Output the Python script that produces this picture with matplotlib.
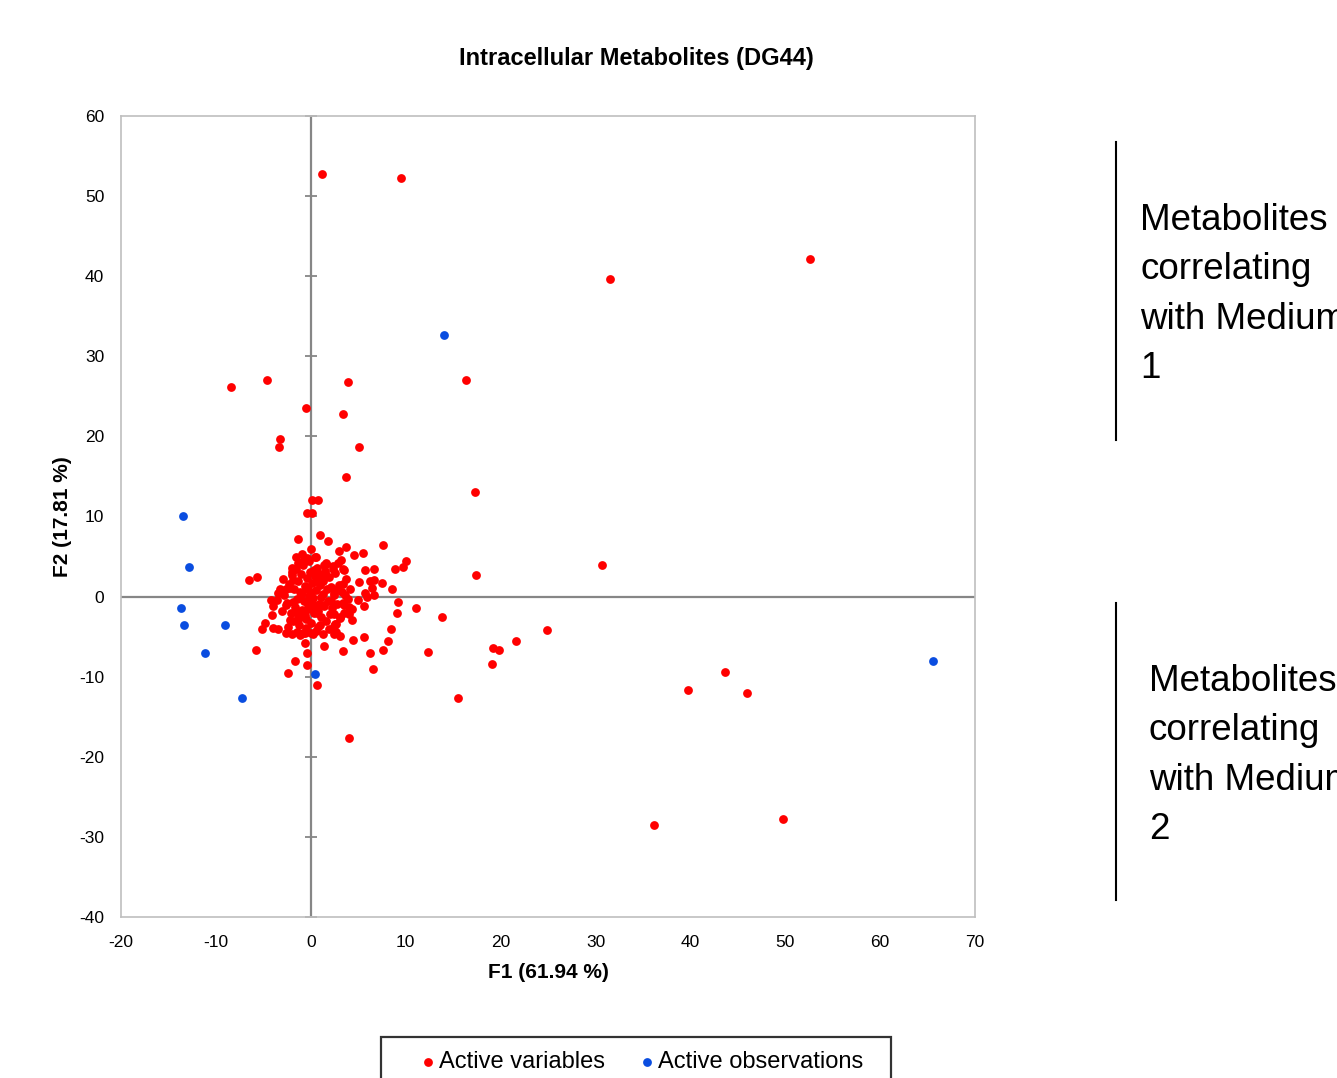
import matplotlib.pyplot as plt
from matplotlib.legend_handler import HandlerPathCollection

plt.rcParams['font.family'] = ['Liberation Sans', 'DejaVu Sans']
plt.rcParams['axes.unicode_minus'] = False

# Active variables (red)
var_x = [1.2, 9.5, 52.6, 31.5, 16.4, -8.4, -4.6, 3.9, -0.5, 3.4, -3.2, -3.3, 5.1, 3.7,
         17.3, 0.1, 0.8, -0.4, 0.1, 30.7, 17.4, 13.8, 11.1, 19.2, 19.8, 19.1, 21.6, 24.9,
         12.3, 15.5, 39.7, 43.6, 46.0, 36.2, 49.8, 4.0, 0.7, -2.4, -5.8, -6.5, -5.7,
         -1.3, 0.95, 1.8, 3.7, 2.95, 4.6, 5.5, 7.6, 0.0, 0.5, 3.2, 1.65, 2.35, 3.5, 5.7,
         6.7, 8.9, 9.7, 10.0, 5.1, 6.2, 6.7, 7.55, 6.5, 5.7, 6.7, 8.6, 5.9, 9.2, 9.1,
         5.0, 5.6, 4.3, 4.3, 3.05, 3.5, 8.4, 8.15, 7.6, 6.2, 6.6, 5.6, 4.4, 3.4, 3.05,
         2.45, 2.45, 1.4, 1.3, 0.0, -0.6, -1.1, -0.6, -0.4, -0.45, -1.7, -4.85, -5.1,
         -4.0, -3.45, -2.6, -2.0, -4.1, -4.0, -3.6, -3.45, -4.15, -2.6, -2.2, -1.9, -2.0,
         -1.3, -0.8, -0.45, 1.5, 1.3, 2.5, 3.4, 3.6, 3.4, 4.0, 2.4, 2.7, 1.3, 2.4,
         -2.8, -2.5, -2.3, -2.1, -2.0, -1.9, -1.8, -1.7, -1.6, -1.5, -1.4, -1.3, -1.2,
         -1.1, -1.0, -0.9, -0.8, -0.7, -0.6, -0.5, -0.4, -0.3, -0.2, -0.1, 0.0, 0.1, 0.2,
         0.3, 0.4, 0.5, 0.6, 0.7, 0.8, 0.9, 1.0, 1.1, 1.2, 1.3, 1.4, 1.5, 1.6, 1.7, 1.8,
         1.9, 2.0, 2.1, 2.2, 2.4, 2.5, 2.6, 2.8, 3.0, 3.1, 3.3, 3.5, 3.7, -1.9, -1.4,
         -0.9, -0.6, -0.3, 0.0, 0.2, 0.5, 0.8, 1.1, -2.2, -2.6, -1.1, 0.3, 0.9, -0.5,
         -0.2, 1.4, 2.3, -2.4, 0.6, -1.5, 1.9, 2.7, -0.8, 0.2, -3.0, -3.2, -2.9, 3.9,
         4.1, 4.0, 3.4, 2.9, -1.6, -0.9, 0.4, 1.0, -1.2, 0.7, -0.3, 1.6, -2.0, 2.1, 0.0]
var_y = [52.8, 52.3, 42.2, 39.7, 27.1, 26.2, 27.0, 26.8, 23.6, 22.8, 19.7, 18.7, 18.7, 14.9,
         13.0, 12.0, 12.0, 10.4, 10.4, 3.9, 2.7, -2.6, -1.4, -6.4, -6.7, -8.4, -5.6, -4.2,
         -6.9, -12.7, -11.7, -9.4, -12.0, -28.5, -27.8, -17.7, -11.1, -9.6, -6.7, 2.1, 2.5,
         7.2, 7.7, 6.9, 6.2, 5.7, 5.2, 5.5, 6.5, 5.9, 5.0, 4.6, 4.2, 3.8, 3.3, 3.3,
         3.4, 3.5, 3.7, 4.5, 1.8, 1.9, 2.1, 1.7, 1.1, 0.5, 0.25, 1.0, -0.1, -0.7, -2.0,
         -0.4, -1.2, -1.6, -2.9, -2.7, -2.1, -4.1, -5.5, -6.7, -7.1, -9.0, -5.0, -5.4, -6.8, -4.9,
         -4.7, -3.7, -6.2, -4.7, -4.5, -4.5, -4.8, -5.8, -7.1, -8.5, -8.1, -3.3, -4.0,
         -3.9, -4.1, -4.5, -4.7, -2.25, -1.2, -0.4, 0.5, -0.4, -1.0, 1.1, 2.1, 3.6,
         4.2, 4.4, 4.8, 3.2, 2.0, 0.8, 1.6, 0.2, -0.8, -1.3, -2.2, -3.4, -1.0, 0.4,
         0.2, -0.8, 1.6, -2.0, 2.7, -3.0, 0.9, -1.3, 3.4, -0.3, 1.9, -2.4, -3.6,
         0.6, 2.8, -1.7, 3.9, -0.6, 1.3, -2.8, 2.3, -1.1, 0.1, 3.1, -3.3, 1.7, -0.2,
         -2.1, 2.6, -1.5, 0.8, 3.6, -3.8, -0.9, 1.4, -2.5, 2.1, 0.3, -1.2, 3.0, -3.1, 0.9, -0.5,
         2.4, -2.2, 1.2, -1.4, 0.2, -3.4, 2.9, -0.9, 1.5, -2.6, 0.6, -1.1, 2.2, -0.7, -1.9,
         0.4, -2.3, 1.0, 0.5, -1.0, 2.0, -1.8, 0.0, -2.9, 1.0, -0.2, 3.3, 2.8, -3.9,
         4.4, 4.0, 3.5, -3.8, -4.3, -4.4, -4.0, -4.4, -4.6, -4.7, -1.8, 1.0, 2.2, -0.3,
         1.0, -2.2, 3.5, 4.2, 5.0, 5.3, 4.9, -3.5, -2.7, -2.0, -1.6, 4.1, 3.1, -0.6, -0.6]

# Active observations (blue)
obs_x = [14.0, -13.5, -12.8, -13.7, -13.4, -9.0, -11.2, -7.2, 0.4, 65.6]
obs_y = [32.6, 10.1, 3.7, -1.4, -3.5, -3.6, -7.0, -12.7, -9.7, -8.1]

x_ticks = [-20, -10, 0, 10, 20, 30, 40, 50, 60, 70]
y_ticks = [-40, -30, -20, -10, 0, 10, 20, 30, 40, 50, 60]

fig = plt.figure(figsize=(13.37, 10.78), dpi=100)
ax = fig.add_axes([0.0905, 0.1494, 0.6388, 0.7430])

# zero lines, tick marks only on the vertical one
ax.axhline(0, color='#868686', lw=1.6, zorder=1)
ax.axvline(0, color='#868686', lw=1.6, zorder=1)
ax.plot([0] * len(y_ticks), y_ticks, ls='none', marker='_', ms=9, mew=1.3,
        color='#868686', zorder=1, clip_on=False)

sc_var = ax.scatter(var_x, var_y, s=40, color='#ff0000', lw=0, zorder=3,
                    label='Active variables')
sc_obs = ax.scatter(obs_x, obs_y, s=40, color='#0a4de0', lw=0, zorder=3,
                    label='Active observations  ')

ax.set_xlim(-20, 70)
ax.set_ylim(-40, 60)
ax.set_xticks(x_ticks)
ax.set_yticks(y_ticks)
ax.tick_params(length=0, labelsize=12.5)
ax.tick_params(axis='y', pad=12)
ax.tick_params(axis='x', pad=13)
for sp in ax.spines.values():
    sp.set_color('#bfbfbf')
    sp.set_linewidth(1.2)

ax.set_xlabel('F1 (61.94 %)', fontsize=15, fontweight='bold', labelpad=9)
ax.set_ylabel('F2 (17.81 %)', fontsize=15, fontweight='bold', labelpad=5)
fig.text(636 / 1337, 1 - 58 / 1078, 'Intracellular Metabolites (DG44)', ha='center',
         va='center', fontsize=17, fontweight='bold')

hmap = {sc_var: HandlerPathCollection(xpad=0.98), sc_obs: HandlerPathCollection(xpad=0.98)}
leg = fig.legend(loc='upper center', bbox_to_anchor=(636 / 1337, 1 - 1037 / 1078),
                 ncol=2, fontsize=17, frameon=True, fancybox=False, markerscale=1.0,
                 handletextpad=0.05, columnspacing=0.38, borderpad=0.6,
                 handlelength=1.82, borderaxespad=0, handler_map=hmap)
leg.get_frame().set_edgecolor('black')
leg.get_frame().set_linewidth(1.6)

# side notes
fig.add_artist(plt.Line2D([1116 / 1337] * 2, [1 - 142 / 1078, 1 - 440 / 1078],
                          color='black', lw=1.5))
fig.add_artist(plt.Line2D([1116 / 1337] * 2, [1 - 603 / 1078, 1 - 900 / 1078],
                          color='black', lw=1.5))
fig.text(1140 / 1337, 1 - 203 / 1078, 'Metabolites\ncorrelating\nwith Medium\n1',
         ha='left', va='top', fontsize=26.5, linespacing=1.53)
fig.text(1149 / 1337, 1 - 664 / 1078, 'Metabolites\ncorrelating\nwith Medium\n2',
         ha='left', va='top', fontsize=26.5, linespacing=1.53)

fig.savefig('out.png', dpi=100)
